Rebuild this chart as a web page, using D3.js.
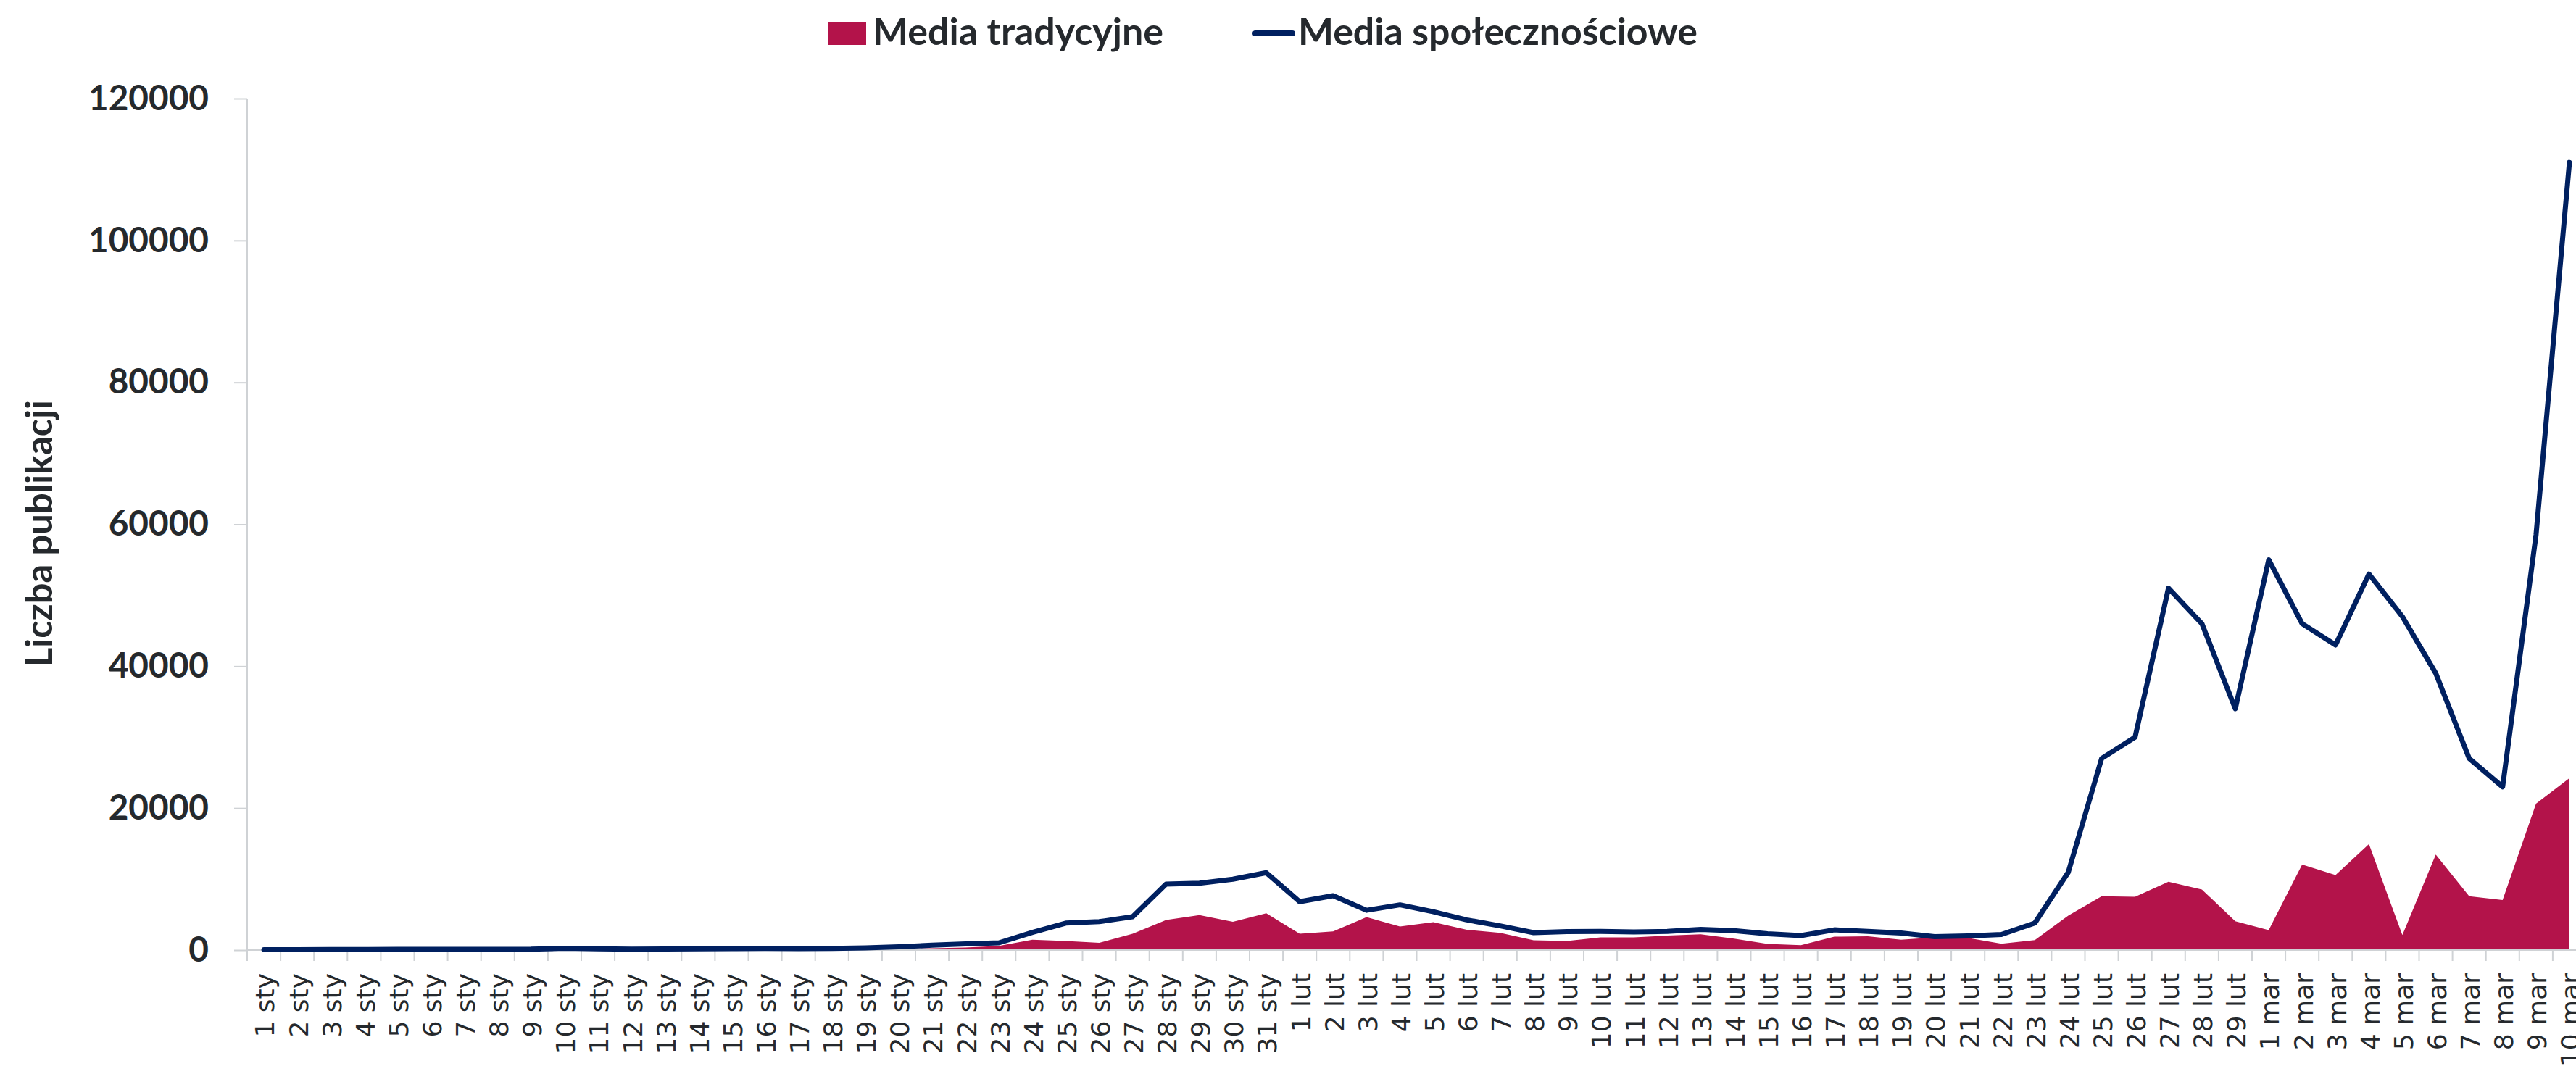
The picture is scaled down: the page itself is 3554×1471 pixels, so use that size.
<!DOCTYPE html>
<html>
<head>
<meta charset="utf-8">
<script src="https://cdn.jsdelivr.net/npm/d3@7"></script>
<style>
  html, body { margin: 0; padding: 0; background: #ffffff; }
  svg { display: block; }
</style>
</head>
<body>
<svg id="chart" width="3554" height="1471"></svg>
<script>
// ---------- DATA ----------
const categories = [
  "1 sty","2 sty","3 sty","4 sty","5 sty","6 sty","7 sty","8 sty","9 sty","10 sty",
  "11 sty","12 sty","13 sty","14 sty","15 sty","16 sty","17 sty","18 sty","19 sty","20 sty",
  "21 sty","22 sty","23 sty","24 sty","25 sty","26 sty","27 sty","28 sty","29 sty","30 sty","31 sty",
  "1 lut","2 lut","3 lut","4 lut","5 lut","6 lut","7 lut","8 lut","9 lut","10 lut",
  "11 lut","12 lut","13 lut","14 lut","15 lut","16 lut","17 lut","18 lut","19 lut","20 lut",
  "21 lut","22 lut","23 lut","24 lut","25 lut","26 lut","27 lut","28 lut","29 lut",
  "1 mar","2 mar","3 mar","4 mar","5 mar","6 mar","7 mar","8 mar","9 mar","10 mar"
];

const mediaTradycyjne = [
  20, 20, 30, 30, 30, 40, 40, 40, 50, 60,
  60, 50, 60, 60, 70, 70, 80, 90, 120, 200,
  250, 350, 580, 1450, 1270, 1020, 2290, 4230, 4940, 3980, 5180,
  2290, 2620, 4640, 3310, 3920, 2870, 2420, 1370, 1270, 1780,
  1780, 2040, 2220, 1600, 860, 680, 1880, 1940, 1450, 1800,
  1700, 890, 1400, 4860, 7590, 7510, 9620, 8530, 4070,
  2820, 12040, 10560, 14930, 2110, 13450, 7590, 7050, 20640, 24240
];

const mediaSpolecznosciowe = [
  50, 60, 70, 80, 90, 100, 110, 100, 120, 250,
  180, 140, 150, 170, 200, 230, 200, 220, 300, 450,
  680, 860, 1020, 2490, 3800, 4000, 4700, 9290, 9430, 9980, 10900,
  6810, 7660, 5600, 6370, 5400, 4250, 3410, 2450, 2600, 2620,
  2550, 2620, 2900, 2730, 2290, 2040, 2850, 2620, 2400, 1900,
  2000, 2200, 3800, 10950, 27000, 30000, 51000, 46000, 34000,
  55000, 46000, 43000, 53000, 47000, 39000, 27000, 23000, 58500, 111000
];

const yTicks = [0, 20000, 40000, 60000, 80000, 100000, 120000];
const seriesNames = ["Media tradycyjne", "Media społecznościowe"];
const yTitle = "Liczba publikacji";

// ---------- LAYOUT ----------
const RED = "#B3134A", NAVY = "#002060", TEXT = "#25292d", AXIS = "#cfd2d5";
const left = 341, bandW = 46.1;
const svg = d3.select("#chart");

const x = d3.scaleBand().domain(categories)
  .range([left, left + categories.length * bandW]).padding(0);
const y = d3.scaleLinear().domain([0, 120000]).range([1311, 136]);
const cx = c => x(c) + x.bandwidth() / 2;

const calibriLike = "Lato, 'Open Sans', 'Noto Sans', sans-serif";

// ---------- AREA (Media tradycyjne) ----------
const area = d3.area()
  .x((d, i) => cx(categories[i]))
  .y0(y(0))
  .y1(d => y(d));
svg.append("path").datum(mediaTradycyjne)
  .attr("d", area).attr("fill", RED);

// ---------- AXES ----------
const yAxis = d3.axisLeft(y).tickValues(yTicks).tickSize(18).tickPadding(35)
  .tickFormat(d3.format("d"));
const gy = svg.append("g").attr("transform", `translate(${left},0)`).call(yAxis);
gy.select(".domain").attr("stroke", AXIS).attr("stroke-width", 2)
  .attr("d", `M0,${y(120000)}V${y(0)}`);
gy.selectAll(".tick line").attr("stroke", AXIS).attr("stroke-width", 2);
gy.selectAll(".tick text")
  .attr("fill", TEXT).attr("font-family", calibriLike).attr("font-weight", 700)
  .attr("font-size", 48);

// x axis line and ticks
const xRight = left + categories.length * bandW;
svg.append("line").attr("x1", left).attr("x2", xRight)
  .attr("y1", y(0)).attr("y2", y(0)).attr("stroke", AXIS).attr("stroke-width", 2);
const bounds = categories.map(c => x(c)).concat([xRight]);
svg.append("g").selectAll("line").data(bounds).join("line")
  .attr("x1", d => d).attr("x2", d => d)
  .attr("y1", y(0)).attr("y2", y(0) + 15)
  .attr("stroke", AXIS).attr("stroke-width", 2);

// x labels
svg.append("g").selectAll("text").data(categories).join("text")
  .attr("transform", d => `translate(${cx(d)},1343) rotate(-90)`)
  .attr("text-anchor", "end").attr("dy", "0.4em")
  .attr("font-family", "'DejaVu Sans', sans-serif").attr("font-size", 36)
  .attr("fill", TEXT).text(d => d);

// ---------- LINE (Media społecznościowe) ----------
const line = d3.line()
  .x((d, i) => cx(categories[i]))
  .y(d => y(d));
svg.append("path").datum(mediaSpolecznosciowe)
  .attr("d", line).attr("fill", "none").attr("stroke", NAVY)
  .attr("stroke-width", 7).attr("stroke-linejoin", "round").attr("stroke-linecap", "round");

// ---------- Y TITLE ----------
const title = svg.append("text")
  .attr("transform", "translate(72,736) rotate(-90)")
  .attr("text-anchor", "middle")
  .attr("font-family", calibriLike).attr("font-weight", 700).attr("font-size", 50)
  .attr("fill", TEXT).text(yTitle);

// ---------- LEGEND ----------
const lg = svg.append("g");
lg.append("rect").attr("x", 1143).attr("y", 31).attr("width", 52).attr("height", 31).attr("fill", RED);
const lt1 = lg.append("text").attr("x", 1204).attr("y", 62)
  .attr("font-family", calibriLike).attr("font-weight", 700).attr("font-size", 48)
  .attr("fill", TEXT).text(seriesNames[0]);
lg.append("line").attr("x1", 1732).attr("x2", 1783).attr("y1", 46).attr("y2", 46)
  .attr("stroke", NAVY).attr("stroke-width", 8).attr("stroke-linecap", "round");
const lt2 = lg.append("text").attr("x", 1791).attr("y", 62)
  .attr("font-family", calibriLike).attr("font-weight", 700).attr("font-size", 48)
  .attr("fill", TEXT).text(seriesNames[1]);

// ---------- fit text widths to the reference ----------
function fit(sel, target) {
  const fs = +sel.attr("font-size");
  const w = sel.node().getComputedTextLength();
  if (w > 0) sel.attr("font-size", (fs * target / w).toFixed(2));
}
fit(lt1, 401);
fit(lt2, 551);
fit(title, 368);
const topLabel = gy.selectAll(".tick text").filter(d => d === 120000);
const fs0 = 48, w0 = topLabel.node().getComputedTextLength();
if (w0 > 0) gy.selectAll(".tick text").attr("font-size", (fs0 * 166 / w0).toFixed(2));
</script>
</body>
</html>
